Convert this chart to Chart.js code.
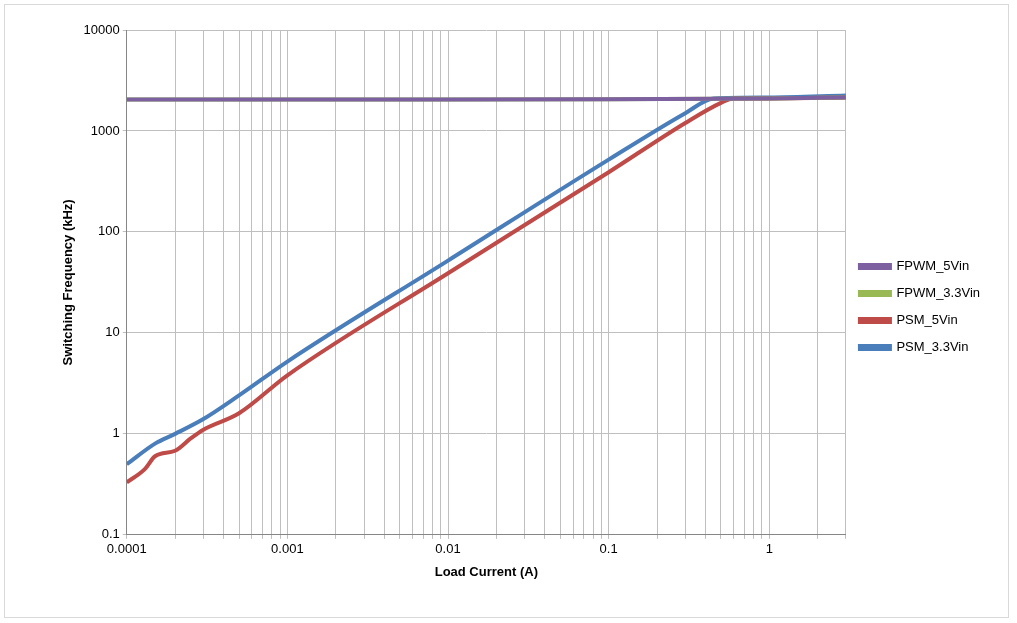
<!DOCTYPE html>
<html>
<head>
<meta charset="utf-8">
<script src="https://cdn.jsdelivr.net/npm/chart.js@4"></script>
<style>
  body { margin: 0; background: #fff; }
  #wrap { position: absolute; left: 4px; top: 4px; width: 1003px; height: 612px; border: 1px solid #d9d9d9; }
</style>
</head>
<body>
<div id="wrap"><canvas id="chart"></canvas></div>
<script>
// values
const psm33X = [0.0001, 0.00015, 0.0002, 0.0003, 0.0005, 0.001, 0.01, 0.1, 0.3, 0.45, 1, 3];
const psm33Y = [0.5, 0.8, 1.0, 1.4, 2.4, 5.2, 52, 520, 1500, 2100, 2150, 2250];
const psm5X = [0.0001, 0.00013, 0.00015, 0.0002, 0.00025, 0.0003, 0.0005, 0.001, 0.01, 0.1, 0.3, 0.5, 0.6, 1, 3];
const psm5Y = [0.33, 0.45, 0.6, 0.68, 0.9, 1.1, 1.6, 3.8, 39, 390, 1200, 1900, 2100, 2100, 2150];
const fpwmX = [0.0001, 0.001, 0.01, 0.1, 1, 3];
const fpwm33Y = [2050, 2050, 2050, 2060, 2100, 2150];
const fpwm5Y = [2050, 2050, 2050, 2060, 2100, 2150];

const pts = (xs, ys) => xs.map((x, i) => ({ x: x, y: ys[i] }));
const font = { family: 'Liberation Sans', size: 13 };

const series = [
  { label: 'PSM_3.3Vin', data: pts(psm33X, psm33Y), color: '#4a7ebb', order: 3 },
  { label: 'FPWM_3.3Vin', data: pts(fpwmX, fpwm33Y), color: '#98b954', order: 1 },
  { label: 'PSM_5Vin', data: pts(psm5X, psm5Y), color: '#be4b48', order: 2 },
  { label: 'FPWM_5Vin', data: pts(fpwmX, fpwm5Y), color: '#7d60a0', order: 0 }
];

new Chart(document.getElementById('chart'), {
  type: 'scatter',
  data: {
    datasets: series.map(s => ({
      label: s.label, data: s.data, showLine: true, cubicInterpolationMode: 'monotone',
      order: s.order,
      borderColor: s.color, backgroundColor: s.color, borderWidth: 4, pointRadius: 0
    }))
  },
  options: {
    responsive: true, maintainAspectRatio: false, animation: false,
    layout: { padding: { top: 25, right: 18, bottom: 33, left: 52 } },
    plugins: {
      tooltip: { enabled: false },
      legend: {
        position: 'right',
        labels: { font: font, color: '#000', boxWidth: 30, boxHeight: 3, padding: 14 }
      }
    },
    scales: {
      x: {
        type: 'logarithmic', min: 0.0001, max: 3,
        title: { display: true, text: 'Load Current (A)', font: { family: 'Liberation Sans', size: 13, weight: 'bold' }, color: '#000' },
        afterBuildTicks: ax => {
          const t = [];
          for (let e = -4; e <= 0; e++) for (let m = 1; m <= 9; m++) {
            const v = m * Math.pow(10, e);
            if (v <= 3) t.push({ value: v });
          }
          ax.ticks = t;
        },
        ticks: {
          autoSkip: false, maxRotation: 0, font: font, color: '#000',
          callback: v => {
            const l = Math.log10(v);
            return Math.abs(l - Math.round(l)) < 1e-9 ? String(Number(v.toPrecision(1))) : '';
          }
        },
        grid: { color: '#bfbfbf', tickLength: 4 },
        border: { color: '#868686' }
      },
      y: {
        type: 'logarithmic', min: 0.1, max: 10000,
        title: { display: true, text: 'Switching Frequency (kHz)', font: { family: 'Liberation Sans', size: 13, weight: 'bold' }, color: '#000' },
        afterBuildTicks: ax => { ax.ticks = [0.1, 1, 10, 100, 1000, 10000].map(v => ({ value: v })); },
        ticks: { font: font, color: '#000', callback: v => String(v) },
        grid: { color: '#bfbfbf', tickLength: 4 },
        border: { color: '#868686' }
      }
    }
  }
});
</script>
</body>
</html>
